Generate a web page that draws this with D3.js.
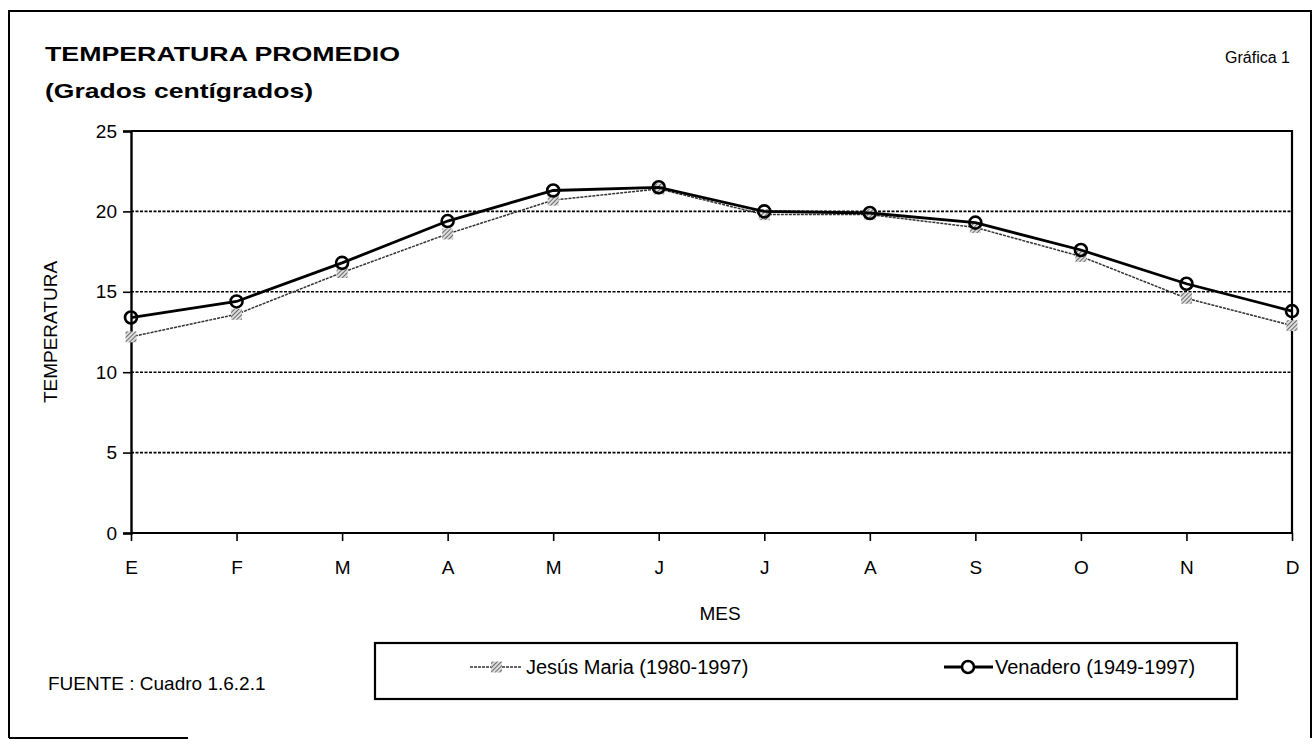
<!DOCTYPE html>
<html>
<head>
<meta charset="utf-8">
<script src="https://cdn.jsdelivr.net/npm/d3@7"></script>
<style>
  body { margin: 0; background: #fff; }
  svg { font-family: "Liberation Sans", Arial, sans-serif; }
</style>
</head>
<body>
<svg id="chart" width="1314" height="751"></svg>
<script>
// data
var months = ["E", "F", "M", "A", "M", "J", "J", "A", "S", "O", "N", "D"];
var jesusMaria = [12.2, 13.6, 16.2, 18.6, 20.7, 21.4, 19.8, 19.8, 19.0, 17.2, 14.6, 12.9];
var venadero = [13.4, 14.4, 16.8, 19.4, 21.3, 21.5, 20.0, 19.9, 19.3, 17.6, 15.5, 13.8];
var yTicks = [0, 5, 10, 15, 20, 25];

var svg = d3.select("#chart");

var pLeft = 131, pRight = 1292, pTop = 131, pBottom = 533;

var x = d3.scalePoint()
    .domain(d3.range(months.length))
    .range([pLeft, pRight]);

var y = d3.scaleLinear()
    .domain([0, 25])
    .range([pBottom, pTop]);

// hatch pattern for the Jesus Maria markers
var defs = svg.append("defs");
var pat = defs.append("pattern")
    .attr("id", "hatch")
    .attr("patternUnits", "userSpaceOnUse")
    .attr("width", 3).attr("height", 3)
    .attr("patternTransform", "rotate(45)");
pat.append("rect").attr("width", 3).attr("height", 3).attr("fill", "#ddd");
pat.append("line").attr("x1", 0).attr("y1", 0).attr("x2", 0).attr("y2", 3)
    .attr("stroke", "#444").attr("stroke-width", 1.5);

// outer frame (scan shows only part of the bottom edge)
svg.append("path")
    .attr("d", "M9,738 L9,11 L1311,11 L1311,738")
    .attr("fill", "none").attr("stroke", "#000").attr("stroke-width", 2);
svg.append("line")
    .attr("x1", 9).attr("x2", 188).attr("y1", 738).attr("y2", 738)
    .attr("stroke", "#000").attr("stroke-width", 2);

// titles
svg.append("text").attr("x", 45).attr("y", 61)
    .attr("font-size", 21).attr("font-weight", "bold")
    .attr("textLength", 355).attr("lengthAdjust", "spacingAndGlyphs")
    .text("TEMPERATURA PROMEDIO");
svg.append("text").attr("x", 45).attr("y", 98)
    .attr("font-size", 21).attr("font-weight", "bold")
    .attr("textLength", 268).attr("lengthAdjust", "spacingAndGlyphs")
    .text("(Grados centígrados)");
svg.append("text").attr("x", 1290).attr("y", 63)
    .attr("font-size", 16).attr("text-anchor", "end")
    .text("Gráfica 1");

// gridlines
svg.append("g").selectAll("line")
    .data(yTicks.filter(function(d) { return d > 0 && d < 25; }))
    .enter().append("line")
    .attr("x1", pLeft).attr("x2", pRight)
    .attr("y1", function(d) { return y(d); })
    .attr("y2", function(d) { return y(d); })
    .attr("stroke", "#000").attr("stroke-width", 1.6)
    .attr("stroke-dasharray", "3,1.5");

// plot frame top & right
svg.append("path")
    .attr("d", "M" + pLeft + "," + pTop + " L" + pRight + "," + pTop + " L" + pRight + "," + pBottom)
    .attr("fill", "none").attr("stroke", "#000").attr("stroke-width", 2.2);

// axes
var yAxis = d3.axisLeft(y).tickValues(yTicks).tickSize(8).tickPadding(6);
var gy = svg.append("g").attr("transform", "translate(" + pLeft + ",0)").call(yAxis);
gy.select(".domain").attr("stroke-width", 2.4);
gy.selectAll(".tick line").attr("stroke-width", 1.6);
gy.selectAll("text").attr("font-size", 19).attr("font-family", "Liberation Sans, Arial, sans-serif");

var xAxis = d3.axisBottom(x).tickFormat(function(i) { return months[i]; })
    .tickSize(8).tickPadding(20).tickSizeOuter(0);
var gx = svg.append("g").attr("transform", "translate(0," + pBottom + ")").call(xAxis);
gx.select(".domain").attr("stroke-width", 2.2).attr("d", "M" + pLeft + ",0H" + pRight);
gx.selectAll(".tick line").attr("stroke-width", 1.6);
gx.selectAll("text").attr("font-size", 19).attr("font-family", "Liberation Sans, Arial, sans-serif");

// axis titles
svg.append("text")
    .attr("transform", "translate(57," + ((pTop + pBottom) / 2) + ") rotate(-90)")
    .attr("text-anchor", "middle").attr("font-size", 19)
    .text("TEMPERATURA");
svg.append("text").attr("x", 720).attr("y", 620)
    .attr("text-anchor", "middle").attr("font-size", 19)
    .text("MES");

var line = d3.line()
    .x(function(d, i) { return x(i); })
    .y(function(d) { return y(d); });

// Jesus Maria series
svg.append("path").datum(jesusMaria)
    .attr("d", line)
    .attr("fill", "none").attr("stroke", "#333").attr("stroke-width", 1.5)
    .attr("stroke-dasharray", "3,1");
svg.append("g").selectAll("rect")
    .data(jesusMaria).enter().append("rect")
    .attr("x", function(d, i) { return x(i) - 5.5; })
    .attr("y", function(d) { return y(d) - 5.5; })
    .attr("width", 11).attr("height", 11)
    .attr("fill", "url(#hatch)");

// Venadero series
svg.append("path").datum(venadero)
    .attr("d", line)
    .attr("fill", "none").attr("stroke", "#000").attr("stroke-width", 2.8);
svg.append("g").selectAll("circle")
    .data(venadero).enter().append("circle")
    .attr("cx", function(d, i) { return x(i); })
    .attr("cy", function(d) { return y(d); })
    .attr("r", 6)
    .attr("fill", "none").attr("stroke", "#000").attr("stroke-width", 2.6);

// source note
svg.append("text").attr("x", 48).attr("y", 690)
    .attr("font-size", 19).text("FUENTE : Cuadro 1.6.2.1");

// legend
svg.append("rect").attr("x", 375).attr("y", 643).attr("width", 862).attr("height", 56)
    .attr("fill", "none").attr("stroke", "#000").attr("stroke-width", 2.2);

var ly = 667;
svg.append("line").attr("x1", 470).attr("x2", 522).attr("y1", ly).attr("y2", ly)
    .attr("stroke", "#333").attr("stroke-width", 1.5).attr("stroke-dasharray", "3,1");
svg.append("rect").attr("x", 491).attr("y", ly - 5.5).attr("width", 11).attr("height", 11)
    .attr("fill", "url(#hatch)");
svg.append("text").attr("x", 526).attr("y", ly + 7).attr("font-size", 20)
    .text("Jesús Maria (1980-1997)");

svg.append("line").attr("x1", 944).attr("x2", 993).attr("y1", ly).attr("y2", ly)
    .attr("stroke", "#000").attr("stroke-width", 2.8);
svg.append("circle").attr("cx", 968).attr("cy", ly).attr("r", 6)
    .attr("fill", "#fff").attr("stroke", "#000").attr("stroke-width", 2.6);
svg.append("text").attr("x", 995).attr("y", ly + 7).attr("font-size", 20)
    .text("Venadero (1949-1997)");
</script>
</body>
</html>
